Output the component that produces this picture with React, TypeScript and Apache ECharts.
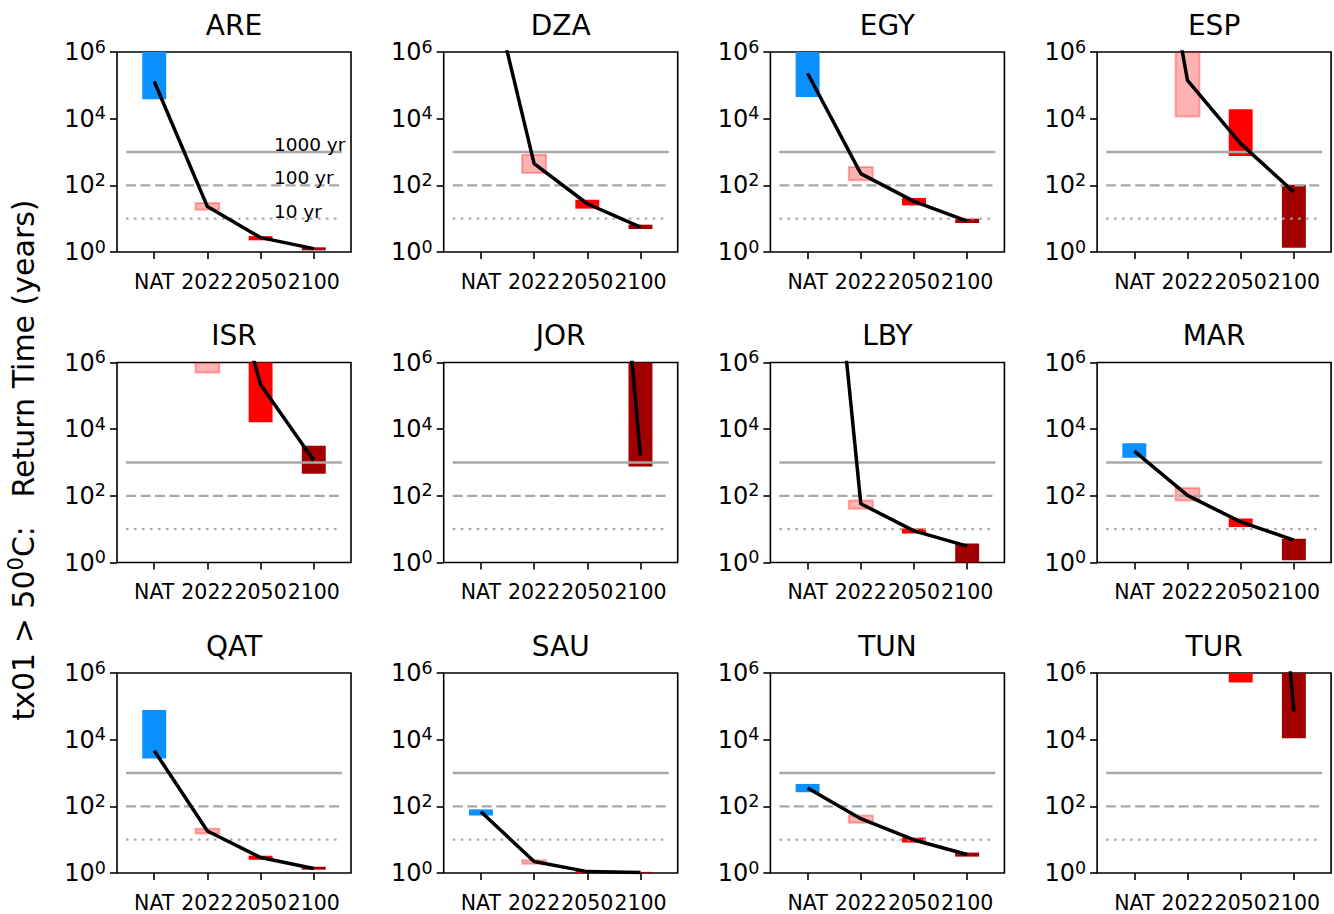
import React, { useEffect, useRef } from 'react';
import * as echarts from 'echarts';

const countries = ['ARE', 'DZA', 'EGY', 'ESP', 'ISR', 'JOR', 'LBY', 'MAR', 'QAT', 'SAU', 'TUN', 'TUR'];
const periods = ['NAT', '2022', '2050', '2100'];

// return-time ranges (years); null = not drawn (outside plotted range)
const lowerBound: (number | null)[][] = [
  [3.8e4, 18.6, 2.24, 1.12], // ARE
  [null, 234, 20, 4.9], // DZA
  [4.5e4, 141, 25, 7.4], // EGY
  [null, 1.17e4, 760, 1.35], // ESP
  [null, 5e5, 1.6e4, 460], // ISR
  [null, null, null, 760], // JOR
  [null, 41, 7.4, 0.6], // LBY
  [1380, 73, 11.7, 1.17], // MAR
  [2700, 15.2, 2.5, 1.26], // QAT
  [53, 1.9, 1.0, 0.98], // SAU
  [265, 32, 8.2, 3.1], // TUN
  [null, null, 5.2e5, 1.1e4], // TUR
];
const upperBound: (number | null)[][] = [
  [2e6, 29.5, 3.0, 1.38],
  [null, 832, 37, 6.6],
  [2e6, 355, 42, 10],
  [null, 3e6, 1.9e4, 105],
  [null, 3e6, 3e6, 3200],
  [null, null, null, 3e6],
  [null, 73, 10.4, 3.7],
  [3800, 171, 21, 5.2],
  [7.7e4, 21.4, 3.3, 1.54],
  [81, 2.4, 1.15, 1.08],
  [470, 53, 11.5, 4.1],
  [null, null, 3e6, 3e6],
];
const bestEstimate: (number | null)[][] = [
  [1.3e5, 23, 2.7, 1.26],
  [2e9, 447, 28, 5.6],
  [2.3e5, 224, 33, 8.5],
  [1e14, 1.4e5, 1780, 63],
  [null, 1e11, 2.2e5, 1150],
  [null, null, 1e21, 1600],
  [6e17, 58, 8.9, 3.1],
  [2200, 103, 16.5, 4.7],
  [4700, 18.2, 2.9, 1.37],
  [69, 2.2, 1.1, 1.03],
  [355, 42.7, 9.8, 3.6],
  [null, null, 1e23, 6.9e4],
];

const refLevels = [1000, 100, 10];
const refLabels = ['1000 yr', '100 yr', '10 yr'];

const FONT = 'DejaVu Sans';
const L0 = 117, COL_STEP = 326.7, T0 = 52, ROW_STEP = 310.5, W = 234, H = 200;
const HALF_BAR = 0.225;

const barStyles = [
  { fill: '#0a90ff' },
  { fill: 'rgba(255,0,0,0.3)', stroke: 'rgba(255,0,0,0.3)', lineWidth: 2 },
  { fill: '#ff0000' },
  { fill: '#a00000' },
];
const refDash: any[] = [null, [10, 4.5], [2.5, 5.5]];

function buildOption() {
  const grid: any[] = [];
  const xAxis: any[] = [];
  const yAxis: any[] = [];
  const series: any[] = [];
  const graphic: any[] = [];

  countries.forEach((name, i) => {
    const row = Math.floor(i / 4);
    const col = i % 4;
    const left = L0 + col * COL_STEP;
    const top = T0 + row * ROW_STEP;
    grid.push({ left, top, width: W, height: H, show: true, borderColor: '#000', borderWidth: 1.6, backgroundColor: 'transparent' });
    xAxis.push({
      gridIndex: i, type: 'value', min: -0.7, max: 3.7,
      axisLine: { show: false, onZero: false },
      splitLine: { show: false },
      axisTick: { show: true, customValues: [0, 1, 2, 3], length: 7, lineStyle: { color: '#000', width: 1.6 } },
      axisLabel: {
        customValues: [0, 1, 2, 3],
        formatter: (v: number) => periods[Math.round(v)],
        fontSize: 20.5, color: '#000', fontFamily: FONT, margin: 19,
      },
    });
    yAxis.push({
      gridIndex: i, type: 'log', logBase: 10, min: 1, max: 1e6, interval: 2,
      axisLine: { show: false, onZero: false },
      splitLine: { show: false },
      minorTick: { show: false },
      axisTick: { show: true, length: 7, lineStyle: { color: '#000', width: 1.6 } },
      axisLabel: {
        margin: 11,
        formatter: (v: number) => `{b|10}{s|${Math.round(Math.log10(v))}}`,
        rich: {
          b: { fontSize: 24, fontFamily: FONT, color: '#000', lineHeight: 29 },
          s: { fontSize: 17.5, fontFamily: FONT, color: '#000', lineHeight: 18, verticalAlign: 'top' },
        },
      },
    });

    const barData = periods
      .map((_, k) => [k, lowerBound[i][k], upperBound[i][k]])
      .filter((d) => d[1] != null && d[2] != null);
    series.push({
      type: 'custom', xAxisIndex: i, yAxisIndex: i, clip: true, z: 2, silent: true,
      data: barData,
      encode: { x: 0, y: [1, 2] },
      renderItem: (params: any, api: any) => {
        const k = api.value(0);
        const lo = api.value(1);
        const hi = api.value(2);
        const p0 = api.coord([k - HALF_BAR, hi]);
        const p1 = api.coord([k + HALF_BAR, lo]);
        return {
          type: 'rect',
          shape: { x: p0[0], y: p0[1], width: p1[0] - p0[0], height: p1[1] - p0[1] },
          style: barStyles[k],
        };
      },
    });

    series.push({
      type: 'custom', xAxisIndex: i, yAxisIndex: i, clip: false, z: 3, silent: true,
      data: refLevels.map((lv, j) => [j, lv]),
      encode: { x: 0, y: 1 },
      renderItem: (params: any, api: any) => {
        const j = api.value(0);
        const lv = api.value(1);
        const a = api.coord([-0.53, lv]);
        const b = api.coord([3.53, lv]);
        const children: any[] = [
          {
            type: 'line',
            shape: { x1: a[0], y1: a[1], x2: b[0], y2: b[1] },
            style: { stroke: '#a8a8a8', lineWidth: 2.4, lineDash: refDash[j] },
          },
        ];
        if (i === 0) {
          const t = api.coord([2.25, lv]);
          children.push({
            type: 'text', x: t[0], y: t[1] + 2,
            style: { text: refLabels[j], fontSize: 18.5, fontFamily: FONT, fill: '#000', align: 'left', verticalAlign: 'bottom' },
          });
        }
        return { type: 'group', children };
      },
    });

    series.push({
      type: 'line', xAxisIndex: i, yAxisIndex: i, z: 5, silent: true, clip: true,
      symbol: 'none',
      data: bestEstimate[i].map((v, k) => [k, v == null ? '-' : v]),
      lineStyle: { color: '#000', width: 3.5 },
    });

    graphic.push({
      type: 'text', x: left + W / 2, y: top - 27,
      style: { text: name, fontSize: 28, fontFamily: FONT, fill: '#000', align: 'center', verticalAlign: 'middle' },
    });
  });

  graphic.push({
    type: 'text', x: 23, y: 460, rotation: Math.PI / 2,
    style: {
      text: '{a|tx01 > 50}{s|0}{a|C:   Return Time (years)}',
      align: 'center', verticalAlign: 'middle',
      rich: {
        a: { fontSize: 30, fontFamily: FONT, fill: '#000', lineHeight: 36 },
        s: { fontSize: 21, fontFamily: FONT, fill: '#000', lineHeight: 22, verticalAlign: 'top' },
      },
    },
  });

  return {
    animation: false,
    backgroundColor: '#ffffff',
    grid, xAxis, yAxis, series, graphic,
  };
}

export default function App() {
  const ref = useRef<HTMLDivElement>(null);
  useEffect(() => {
    if (!ref.current) return;
    const chart = echarts.init(ref.current, null, { renderer: 'svg' });
    chart.setOption(buildOption() as any);
    return () => chart.dispose();
  }, []);
  return (
    <div
      ref={ref}
      style={{ position: 'fixed', left: 0, top: 0, width: 1334, height: 914, background: '#fff' }}
    />
  );
}
